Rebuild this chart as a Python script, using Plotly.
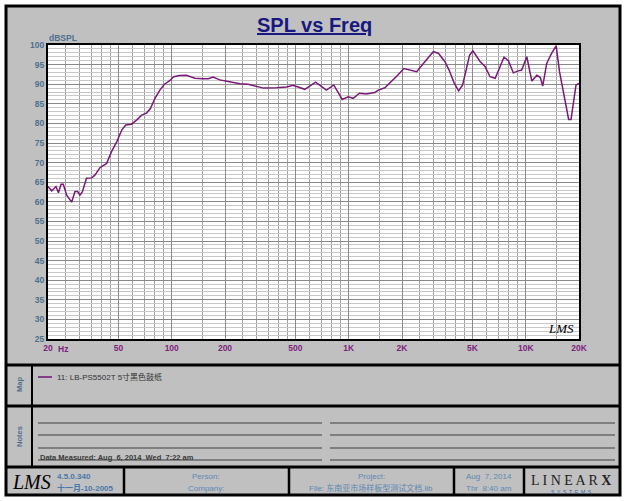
import math
import plotly.graph_objects as go

# ---------------- data ----------------
freq_hz = [20, 21, 22.2, 22.9, 23.7, 24.4, 25.5, 27.2, 28.4, 29.4, 30.3, 31.3, 33.0, 35.3,
           36.8, 39.3, 42.9, 45.7, 48.9, 52.2, 55.0, 59.3, 63.5, 67.7, 72.3, 75.8, 80.4,
           85.7, 91.0, 97.4, 102.6, 111, 121, 135, 150, 161, 171, 187, 212, 243, 270, 300,
           330, 391, 446, 485, 565, 650, 748, 823, 919, 994, 1060, 1150, 1255, 1405, 1470,
           1600, 1740, 1890, 2050, 2220, 2420, 2700, 3006, 3210, 3490, 3690, 3950, 4180,
           4400, 4820, 5030, 5520, 5890, 6290, 6720, 7180, 7540, 7980, 8510, 9090, 9490,
           10140, 10830, 11560, 12100, 12470, 13140, 14020, 14860, 15520, 17480, 18030,
           19240, 20000]
spl_db = [63.9, 62.8, 63.9, 62.3, 64.5, 64.5, 61.7, 59.9, 62.6, 62.6, 61.7, 62.6, 66.0, 66.1,
          66.8, 68.7, 69.8, 72.8, 75.3, 78.3, 79.6, 79.8, 80.9, 82.1, 82.7, 83.8, 86.4,
          88.5, 90.0, 90.9, 91.9, 92.2, 92.3, 91.5, 91.4, 91.4, 91.8, 91.1, 90.6, 90.1, 90.0, 89.5,
          89.0, 89.1, 89.3, 89.7, 88.7, 90.5, 88.5, 89.8, 86.1, 86.8, 86.4, 87.7, 87.5, 87.9, 88.5,
          89.1, 90.6, 92.3, 94.0, 93.6, 93.2, 95.8, 98.3, 97.9, 95.8, 93.6, 90.2, 88.3,
          89.8, 97.4, 98.5, 95.8, 94.5, 91.9, 91.5, 94.6, 96.9, 96.0, 92.9, 93.4, 93.6,
          97.0, 90.8, 92.3, 91.7, 89.5, 95.3, 97.9, 99.8, 93.2, 81.0, 81.0,
          89.8, 90.2]
series_name = "11: LB-PS5502T 5寸黑色鼓纸"

x_major_vals = [20, 50, 100, 200, 500, 1000, 2000, 5000, 10000, 20000]
x_major_text = ["20", "50", "100", "200", "500", "1K", "2K", "5K", "10K", "20K"]
x_minor_vals = [25, 30, 35, 40, 45, 60, 70, 80, 90,
                150, 250, 300, 350, 400, 450, 600, 700, 800, 900,
                1500, 2500, 3000, 3500, 4000, 4500, 6000, 7000, 8000, 9000,
                15000]
y_range = [25, 100]

# ---------------- geometry helpers ----------------
W, H = 625, 501
L, R, T, B = 48, 579, 45, 339


def PX(x):
    return (x - L) / (R - L)


def PY(y):
    return (B - y) / (B - T)


FONT = "Arial, 'Liberation Sans', sans-serif"
CJK = "Arial, 'Liberation Sans', 'Noto Sans CJK SC', sans-serif"
SLATE = "#4f6f8f"
FOOT = "#5f88b4"
PURPLE = "#7f1f7f"

fig = go.Figure()
fig.add_trace(go.Scatter(x=freq_hz, y=spl_db, mode="lines", name=series_name,
                         line=dict(color="#7a1a78", width=1.5), showlegend=False))

shapes = []


def rect(x0, y0, x1, y1, color="black", width=3, fill=None):
    d = dict(type="rect", xref="paper", yref="paper", x0=PX(x0), x1=PX(x1),
             y0=PY(y0), y1=PY(y1), line=dict(color=color, width=width))
    if fill:
        d["fillcolor"] = fill
    shapes.append(d)


def hline(x0, x1, y, color="black", width=3):
    shapes.append(dict(type="line", xref="paper", yref="paper", x0=PX(x0), x1=PX(x1),
                       y0=PY(y), y1=PY(y), line=dict(color=color, width=width)))


def vline(x, y0, y1, color="black", width=3):
    shapes.append(dict(type="line", xref="paper", yref="paper", x0=PX(x), x1=PX(x),
                       y0=PY(y0), y1=PY(y1), line=dict(color=color, width=width)))


# white outer margin and black frame
rect(0, 0, W, H, color="white", width=12)
rect(6, 6, 620, 495, color="black", width=3)
# panel separators
hline(6, 620, 365)
hline(6, 620, 406)
hline(6, 620, 467)
vline(32, 365, 467, width=2)
for xs in [124, 289, 454, 524]:
    vline(xs, 467, 495, width=2.5)
# notes lines
for yy in [423, 435, 448, 460]:
    hline(38, 322, yy, color="#6a6a6a", width=1.3)
    hline(330, 615, yy, color="#6a6a6a", width=1.3)
# map legend sample
hline(38, 52, 377, color="#7a1a78", width=1.6)

ann = []


def text(x, y, s, size=8, color=SLATE, xanchor="center", yanchor="middle", family=FONT,
         angle=0):
    ann.append(dict(xref="paper", yref="paper", x=PX(x), y=PY(y), text=s, showarrow=False,
                    xanchor=xanchor, yanchor=yanchor, textangle=angle,
                    font=dict(size=size, color=color, family=family)))


text(314, 25, "<b><u>SPL vs Freq</u></b>", size=20, color="#18187e")
text(47, 38, "<b>dBSPL</b>", size=8.5, color=SLATE, xanchor="left")
text(56, 349, "<b>Hz</b>", size=8.5, color=PURPLE, xanchor="left")
text(561, 328, "<i>LMS</i>", size=13, color="black", family="'Liberation Serif', serif")
text(19, 385, "<b>Map</b>", size=7.5, color=SLATE, angle=-90)
text(19, 437, "<b>Notes</b>", size=7.5, color=SLATE, angle=-90)
text(55, 377, series_name, size=8, color="#333333", xanchor="left", family=CJK)
text(38, 457, "<b>Data Measured: Aug  6, 2014  Wed  7:22 am</b>", size=7.5, color="#3a3a3a",
     xanchor="left")
# footer
text(31, 482, "<i>LMS</i>", size=20, color="black", family="'Liberation Serif', serif")
text(55, 476, "<b>4.5.0.340</b>", size=8, color="#4a78aa", xanchor="left")
text(55, 488, "<b>十一月-10-2005</b>", size=8, color="#4a78aa", xanchor="left", family=CJK)
text(206, 476, "Person:", size=8, color=FOOT)
text(206, 488, "Company:", size=8, color=FOOT)
text(371, 476, "Project:", size=8, color=FOOT)
text(371, 488, "File: 东南亚市场样板型测试文档.lib", size=8, color=FOOT, family=CJK)
text(489, 476, "Aug  7, 2014", size=8, color=FOOT)
text(489, 488, "Thr  8:40 am", size=8, color=FOOT)
text(571, 480, "L I N E A R <b>X</b>", size=14, color="#222222",
     family="'Liberation Serif', serif")
text(571, 492, "S  Y  S  T  E  M  S", size=5, color="#3060a0")

fig.update_layout(
    width=W, height=H,
    margin=dict(l=L, r=W - R, t=T, b=H - B, pad=0),
    paper_bgcolor="#c0c0c0", plot_bgcolor="white",
    shapes=shapes, annotations=ann, showlegend=False,
    xaxis=dict(type="log", range=[math.log10(20), math.log10(20000)],
               tickmode="array", tickvals=x_major_vals, ticktext=x_major_text,
               tickfont=dict(size=8.5, color=PURPLE, family=FONT, weight="bold"),
               showgrid=True, gridcolor="#8a8a8a", gridwidth=1,
               minor=dict(tickmode="array", tickvals=x_minor_vals, showgrid=True,
                          gridcolor="#a0a0a0", gridwidth=1, ticks=""),
               showline=True, mirror=True, linecolor="black", linewidth=2,
               ticks="", zeroline=False, fixedrange=True),
    yaxis=dict(range=y_range, tickmode="linear", tick0=25, dtick=5,
               tickfont=dict(size=8.5, color=SLATE, family=FONT, weight="bold"),
               showgrid=True, gridcolor="#8a8a8a", gridwidth=1,
               minor=dict(dtick=1, showgrid=True, gridcolor="#c8c8c8", gridwidth=1, ticks=""),
               showline=True, mirror=True, linecolor="black", linewidth=2,
               ticks="", zeroline=False, fixedrange=True),
)

fig.write_html(
    "out.html",
    config={"displayModeBar": False},
    post_script="document.body.style.margin='0';document.body.style.padding='0';"
                "document.body.style.overflow='hidden';",
)
